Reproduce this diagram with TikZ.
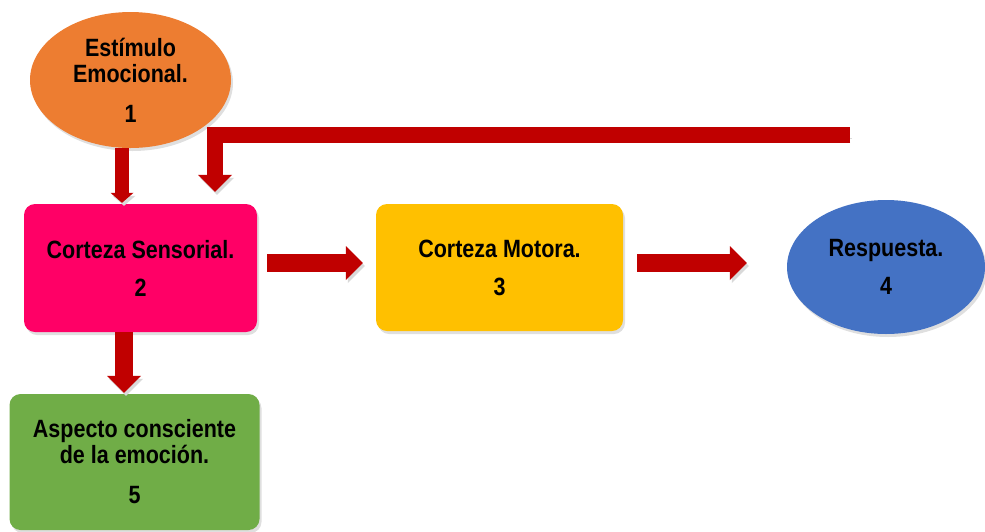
\documentclass[tikz,border=0pt]{standalone}
\usepackage{fontspec}
\newfontfamily\lblfont[FakeStretch=0.86]{Liberation Sans}
\usetikzlibrary{arrows.meta,shapes.geometric,shadows}

\definecolor{stimorange}{HTML}{ED7D31}
\definecolor{sensepink}{HTML}{FF0066}
\definecolor{motoryellow}{HTML}{FFC000}
\definecolor{replyblue}{HTML}{4472C4}
\definecolor{awaregreen}{HTML}{70AD47}
\definecolor{arrowred}{HTML}{C00000}

\begin{document}
\begin{tikzpicture}[x=1pt,y=1pt,
  lbl/.style={font=\lblfont\bfseries\fontsize{25}{26}\selectfont,
    align=center, text=black, inner sep=0pt},
  softshadow/.style={drop shadow={shadow xshift=2pt,shadow yshift=-3pt,opacity=0.25}},
  box/.style={lbl, rectangle, rounded corners=11pt, softshadow},
  oval/.style={lbl, ellipse, softshadow},
  blockarrow/.style={draw=arrowred, line width=18pt, line join=miter,
    -{Triangle[length=17pt,width=34pt,line width=0pt]},
    preaction={draw=black!15, transform canvas={shift={(2pt,-3pt)}}}},
]
\useasboundingbox (0,0) rectangle (985,-531);

% process stages
\node[oval, fill=stimorange, minimum width=201pt, minimum height=136pt]
  (stim) at (130.5,-80) {Estímulo\\Emocional.\\[14pt]1};
\node[box, fill=sensepink, minimum width=233pt, minimum height=128pt]
  (sens) at (140.5,-268) {Corteza Sensorial.\\[12pt]2};
\node[box, fill=motoryellow, minimum width=247pt, minimum height=127pt]
  (motor) at (499.5,-267.5) {Corteza Motora.\\[12pt]3};
\node[oval, fill=replyblue, minimum width=198pt, minimum height=134pt]
  (resp) at (886,-267) {Respuesta.\\[12pt]4};
\node[box, fill=awaregreen, minimum width=250pt, minimum height=136pt]
  (aware) at (134.5,-462) {Aspecto consciente\\de la emoción.\\[14pt]5};

% feedback line from the response back into the sensory cortex
\coordinate (fbstart) at (850,-135);
\coordinate (fbtip) at ([xshift=74.5pt,yshift=12pt]sens.north);

% block arrows
\draw[blockarrow, line width=14pt,
      -{Triangle[length=10pt,width=23pt,line width=0pt]}]
  ([xshift=-8.5pt]stim.south) -- ([xshift=-18.5pt,yshift=1pt]sens.north);
\draw[blockarrow] ([xshift=10pt,yshift=5pt]sens.east)
  -- ([xshift=-13pt,yshift=4.5pt]motor.west);
\draw[blockarrow] ([xshift=14pt,yshift=4.5pt]motor.east)
  -- ([xshift=-40pt,yshift=4pt]resp.west);
\draw[blockarrow] ([xshift=-16.5pt]sens.south)
  -- ([xshift=-10.5pt,yshift=1pt]aware.north);
\draw[blockarrow, line width=16pt] (fbstart) -| (fbtip);
\end{tikzpicture}
\end{document}
